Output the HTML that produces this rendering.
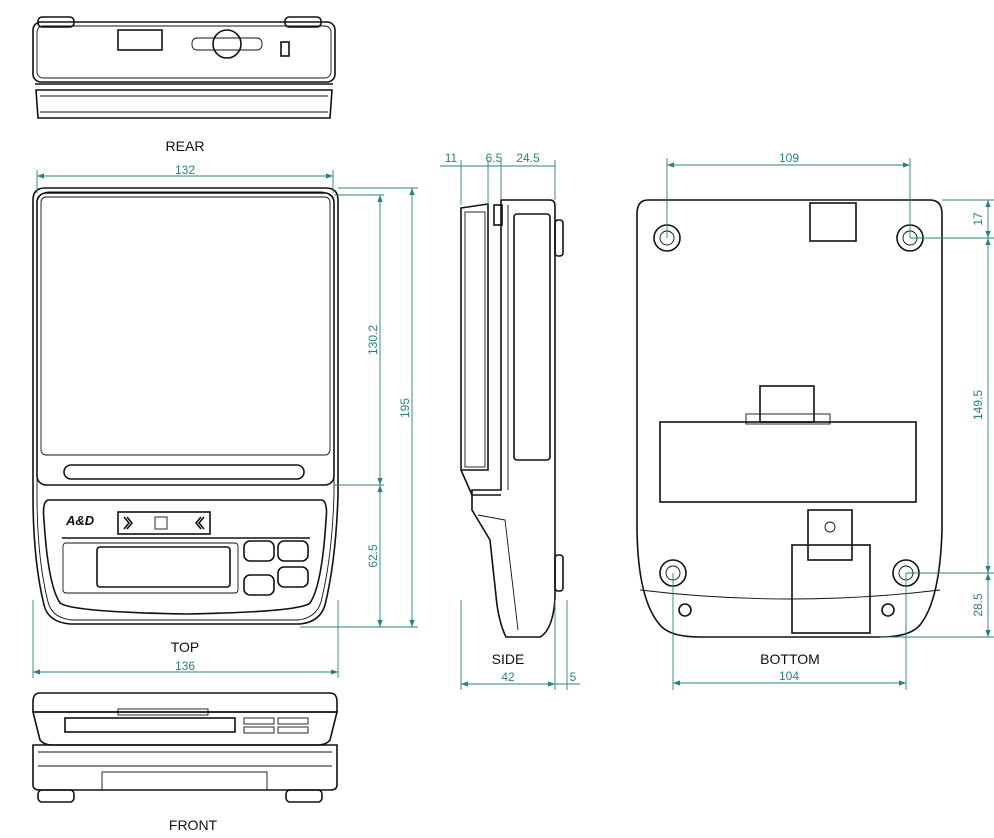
<!DOCTYPE html>
<html><head><style>
body{margin:0;background:#fff;}
svg{display:block;font-family:"Liberation Sans",sans-serif;}
.k{fill:none;stroke:#111;stroke-width:1.6}
.t{fill:none;stroke:#111;stroke-width:0.9}
.d{stroke:#2a8080;stroke-width:0.9;fill:none}
.dt{fill:#2a8080;font-size:12px}
.lb{fill:#111;font-size:14px}
</style></head><body>
<svg width="994" height="838" viewBox="0 0 994 838">
<defs>
<marker id="a" markerWidth="8" markerHeight="6" refX="8" refY="3" orient="auto-start-reverse"><path d="M0,0L8,3L0,6z" fill="#2a8080"/></marker>
</defs>
<!-- REAR -->
<g>
<rect x="38" y="17" width="36" height="10" rx="4" class="k"/>
<rect x="285" y="17" width="36" height="10" rx="4" class="k"/>
<rect x="33" y="22" width="302" height="60" rx="8" class="k"/>
<rect x="37" y="26" width="294" height="52" rx="6" class="t"/>
<rect x="118" y="30" width="44" height="20" class="k"/>
<rect x="192" y="38" width="70" height="12" rx="5" class="t"/>
<circle cx="227" cy="44" r="14" fill="#fff" class="k"/>
<rect x="281" y="42" width="8" height="14" class="k"/>
<path d="M35,84H333M36,90H332L330,118H38Z" class="k"/>
<path d="M40,96H328M40,112H328" class="t"/>
<text x="185" y="151" class="lb" text-anchor="middle">REAR</text>
</g>
<!-- TOP -->
<g>
<path d="M45,188H326Q338,188 338,200V495Q336,560 325,605Q320,622 300,624H70Q48,622 44,605Q33,560 33,495V200Q33,188 45,188Z" class="k"/>
<path d="M48,192H322Q334,194 334,204V495Q332,558 321,602Q316,618 298,620H72Q52,618 48,602Q37,558 37,495V204Q37,194 48,192Z" class="t"/>
<rect x="37" y="193" width="297" height="292" rx="9" class="k"/>
<rect x="41" y="197" width="289" height="258" rx="5" class="t"/>
<rect x="64" y="465" width="240" height="14" rx="7" class="k"/>
<path d="M48,500H322Q328,502 326,520Q322,585 310,603Q300,612 186,614Q72,612 60,603Q48,585 44,520Q42,502 48,500Z" class="k"/>
<text x="66" y="525" font-size="13" font-weight="bold" font-style="italic" fill="#111">A&amp;D</text>
<rect x="118" y="512" width="92" height="22" class="k"/>
<rect x="155" y="517" width="12" height="12" class="t"/>
<path d="M124,517l5,6l-5,6M127,517l5,6l-5,6M204,517l-5,6l5,6M201,517l-5,6l5,6" class="k"/>
<path d="M62,538H310" class="k"/>
<rect x="63" y="543" width="175" height="50" rx="3" class="t"/>
<rect x="97" y="547" width="133" height="40" rx="3" class="k"/>
<rect x="244" y="541" width="30" height="20" rx="6" class="k"/>
<rect x="278" y="541" width="30" height="20" rx="6" class="k"/>
<rect x="244" y="575" width="30" height="20" rx="6" class="k"/>
<rect x="278" y="567" width="30" height="20" rx="6" class="k"/>
<text x="185" y="652" class="lb" text-anchor="middle">TOP</text>
</g>
<!-- dims TOP -->
<g>
<line x1="37" y1="176" x2="333" y2="176" class="d" marker-start="url(#a)" marker-end="url(#a)"/>
<line x1="37" y1="170" x2="37" y2="193" class="d"/><line x1="333" y1="170" x2="333" y2="193" class="d"/>
<text x="185" y="174" class="dt" text-anchor="middle">132</text>
<line x1="33" y1="672" x2="338" y2="672" class="d" marker-start="url(#a)" marker-end="url(#a)"/>
<line x1="33" y1="600" x2="33" y2="678" class="d"/><line x1="338" y1="600" x2="338" y2="678" class="d"/>
<text x="185" y="670" class="dt" text-anchor="middle">136</text>
<line x1="338" y1="188" x2="418" y2="188" class="d"/>
<line x1="334" y1="195" x2="384" y2="195" class="d"/>
<line x1="334" y1="485" x2="384" y2="485" class="d"/>
<line x1="300" y1="627" x2="418" y2="627" class="d"/>
<line x1="380" y1="195" x2="380" y2="485" class="d" marker-start="url(#a)" marker-end="url(#a)"/>
<line x1="380" y1="485" x2="380" y2="627" class="d" marker-start="url(#a)" marker-end="url(#a)"/>
<line x1="412" y1="188" x2="412" y2="627" class="d" marker-start="url(#a)" marker-end="url(#a)"/>
<text transform="translate(377,340) rotate(-90)" class="dt" text-anchor="middle">130.2</text>
<text transform="translate(377,556) rotate(-90)" class="dt" text-anchor="middle">62.5</text>
<text transform="translate(409,408) rotate(-90)" class="dt" text-anchor="middle">195</text>
</g>
<!-- FRONT -->
<g>
<path d="M40,693H330Q337,693 337,702V712H33V702Q33,693 40,693Z" class="k"/>
<path d="M33,712H337L330,740Q326,745 318,745H52Q44,745 40,740Z" class="k"/>
<rect x="118" y="709" width="90" height="6" class="t"/>
<rect x="65" y="718" width="170" height="14" class="k"/>
<rect x="244" y="718" width="30" height="6" class="t"/><rect x="278" y="718" width="30" height="6" class="t"/>
<rect x="244" y="727" width="30" height="6" class="t"/><rect x="278" y="727" width="30" height="6" class="t"/>
<path d="M33,745H337V785Q337,790 330,790H40Q33,790 33,785Z" class="k"/>
<path d="M38,752H332M38,766H332" class="t"/>
<rect x="102" y="772" width="165" height="18" class="t"/>
<rect x="38" y="790" width="36" height="12" rx="4" class="k"/>
<rect x="286" y="790" width="36" height="12" rx="4" class="k"/>
<text x="193" y="830" class="lb" text-anchor="middle">FRONT</text>
</g>
<!-- SIDE -->
<g>
<path d="M461,208L488,204V470H461Z" class="k"/>
<rect x="465" y="212" width="20" height="255" class="t"/>
<rect x="494" y="205" width="8" height="20" class="k"/>
<path d="M501,200H550Q555,200 555,206V598Q553,630 540,637H506Q500,625 497,605L490,540L472,510V490H501Z" class="k"/>
<rect x="514" y="214" width="36" height="246" rx="3" class="k"/>
<line x1="508" y1="205" x2="508" y2="490" class="t"/>
<rect x="555" y="220" width="8" height="36" rx="3" class="k"/>
<rect x="555" y="555" width="8" height="36" rx="3" class="k"/>
<path d="M461,470L472,495L501,495" class="k"/>
<path d="M478,515L505,520L518,630" class="t"/>
<text x="508" y="664" class="lb" text-anchor="middle">SIDE</text>
<line x1="461" y1="160" x2="461" y2="205" class="d"/><line x1="488" y1="160" x2="488" y2="205" class="d"/>
<line x1="501" y1="160" x2="501" y2="200" class="d"/><line x1="555" y1="160" x2="555" y2="200" class="d"/>
<line x1="440" y1="166" x2="555" y2="166" class="d"/>
<text x="451" y="162" class="dt" text-anchor="middle">11</text>
<text x="494" y="162" class="dt" text-anchor="middle">6.5</text>
<text x="528" y="162" class="dt" text-anchor="middle">24.5</text>
<line x1="461" y1="600" x2="461" y2="690" class="d"/><line x1="555" y1="600" x2="555" y2="690" class="d"/>
<line x1="567" y1="600" x2="567" y2="690" class="d"/>
<line x1="461" y1="684" x2="555" y2="684" class="d" marker-start="url(#a)" marker-end="url(#a)"/>
<line x1="555" y1="684" x2="580" y2="684" class="d"/>
<text x="508" y="681" class="dt" text-anchor="middle">42</text>
<text x="573" y="681" class="dt" text-anchor="middle">5</text>
</g>
<!-- BOTTOM -->
<g>
<path d="M648,200H930Q942,200 942,214V530Q940,600 920,625Q910,637 880,637H700Q670,637 660,625Q638,600 637,530V214Q637,200 648,200Z" class="k"/>
<rect x="810" y="203" width="46" height="38" class="k"/>
<circle cx="667" cy="238" r="13" class="k"/><circle cx="667" cy="238" r="7" class="t"/>
<circle cx="910" cy="238" r="13" class="k"/><circle cx="910" cy="238" r="7" class="t"/>
<circle cx="673" cy="573" r="13" class="k"/><circle cx="673" cy="573" r="7" class="t"/>
<circle cx="906" cy="573" r="13" class="k"/><circle cx="906" cy="573" r="7" class="t"/>
<circle cx="685" cy="610" r="6" class="k"/><circle cx="888" cy="610" r="6" class="k"/>
<rect x="760" y="386" width="54" height="36" class="k"/>
<rect x="660" y="422" width="256" height="80" class="k"/>
<rect x="746" y="414" width="84" height="10" class="t"/>
<rect x="808" y="510" width="44" height="50" class="k"/>
<circle cx="830" cy="527" r="5" class="t"/>
<rect x="792" y="545" width="78" height="88" class="k"/>
<path d="M640,590Q790,608 940,590" class="t"/>
<text x="790" y="664" class="lb" text-anchor="middle">BOTTOM</text>
<line x1="667" y1="158" x2="667" y2="238" class="d"/><line x1="910" y1="158" x2="910" y2="238" class="d"/>
<line x1="667" y1="165" x2="910" y2="165" class="d" marker-start="url(#a)" marker-end="url(#a)"/>
<text x="789" y="162" class="dt" text-anchor="middle">109</text>
<line x1="673" y1="573" x2="673" y2="690" class="d"/><line x1="906" y1="573" x2="906" y2="690" class="d"/>
<line x1="673" y1="683" x2="906" y2="683" class="d" marker-start="url(#a)" marker-end="url(#a)"/>
<text x="789" y="680" class="dt" text-anchor="middle">104</text>
<line x1="942" y1="200" x2="994" y2="200" class="d"/>
<line x1="910" y1="238" x2="994" y2="238" class="d"/>
<line x1="906" y1="573" x2="994" y2="573" class="d"/>
<line x1="880" y1="637" x2="994" y2="637" class="d"/>
<line x1="988" y1="200" x2="988" y2="238" class="d" marker-start="url(#a)" marker-end="url(#a)"/>
<line x1="988" y1="238" x2="988" y2="573" class="d" marker-start="url(#a)" marker-end="url(#a)"/>
<line x1="988" y1="573" x2="988" y2="637" class="d" marker-start="url(#a)" marker-end="url(#a)"/>
<text transform="translate(982,219) rotate(-90)" class="dt" text-anchor="middle">17</text>
<text transform="translate(982,405) rotate(-90)" class="dt" text-anchor="middle">149.5</text>
<text transform="translate(982,605) rotate(-90)" class="dt" text-anchor="middle">28.5</text>
</g>
</svg>
</body></html>
